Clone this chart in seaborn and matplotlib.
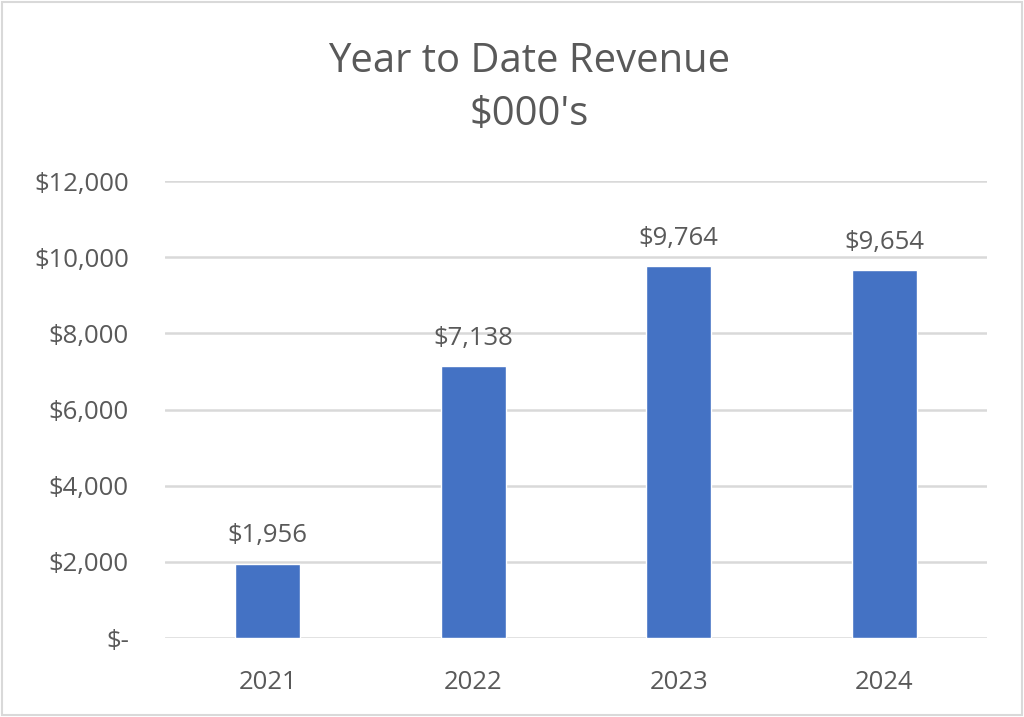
import matplotlib
matplotlib.use("Agg")
import matplotlib.pyplot as plt
import seaborn as sns
import pandas as pd
from matplotlib.ticker import FuncFormatter
from matplotlib.patches import Rectangle

years = ["2021", "2022", "2023", "2024"]
revenue = [1956, 7138, 9764, 9654]

df = pd.DataFrame({"Year": years, "Revenue": revenue})

sns.set_style("white")
plt.rcParams["font.family"] = ["Open Sans", "DejaVu Sans"]

text_color = "#595959"
grid_color = "#D9D9D9"

fig = plt.figure(figsize=(10.24, 7.17), dpi=100)
ax = fig.add_axes([165 / 1024, 1 - 638 / 717, 822 / 1024, 457 / 717])

sns.barplot(data=df, x="Year", y="Revenue", color="#4472C4", width=0.316,
            saturation=1, ax=ax, zorder=3)

ax.set_ylim(0, 12000)
ax.set_xlim(-0.5, 3.5)
ax.set_yticks(range(0, 12001, 2000))
ax.yaxis.set_major_formatter(FuncFormatter(lambda v, p: "$-" if v == 0 else f"${v:,.0f}"))
ax.grid(axis="y", color=grid_color, linewidth=1.8, zorder=0)
for s in ax.spines.values():
    s.set_visible(False)
ax.tick_params(axis="both", length=0, labelsize=18.5, labelcolor=text_color)
ax.tick_params(axis="y", pad=26)
ax.tick_params(axis="x", pad=23)
ax.set_xlabel("")
ax.set_ylabel("")

# value labels
for i, v in enumerate(revenue):
    ax.annotate(f"${v:,}", (i, v), xytext=(0, 11), textcoords="offset points",
                ha="center", va="bottom", fontsize=18.5, color=text_color)

fig.text(529 / 1024, 1 - 62 / 717, "Year to Date Revenue", ha="center", va="center",
         fontsize=28.8, color=text_color)
fig.text(529 / 1024, 1 - 115 / 717, "$000's", ha="center", va="center",
         fontsize=28.8, color=text_color)

# outer border
fig.patches.append(Rectangle((0.002, 0.003), 0.996, 0.994, transform=fig.transFigure,
                             fill=False, edgecolor=grid_color, linewidth=1.5))

fig.savefig("out.png", dpi=100)
